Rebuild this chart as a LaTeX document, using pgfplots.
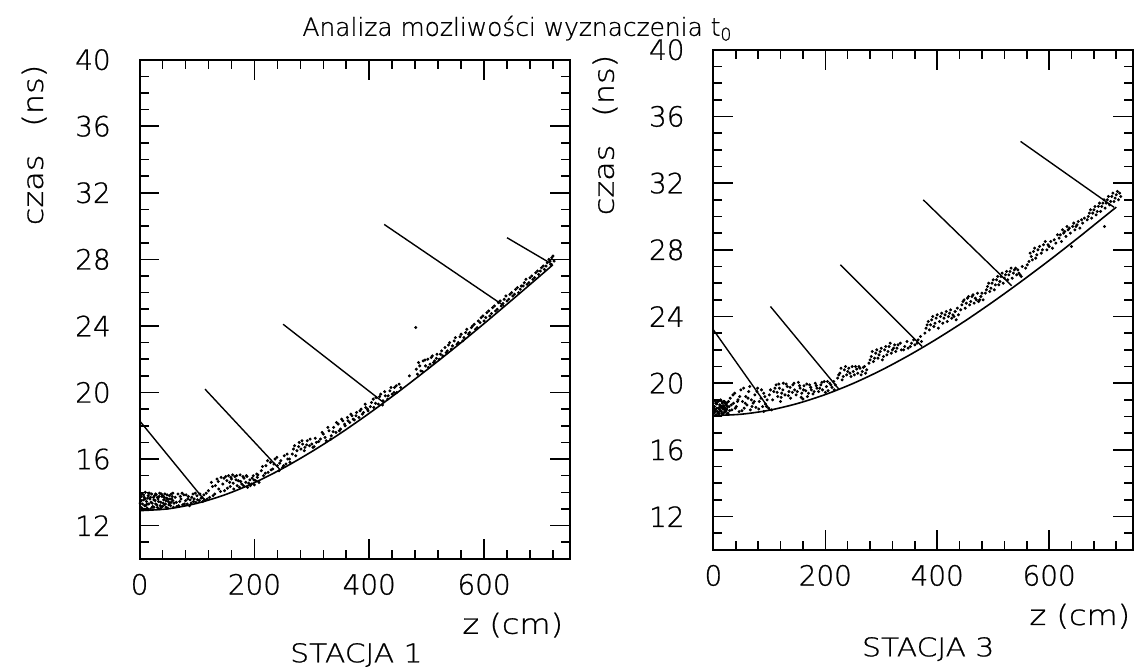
\documentclass[border=0pt]{standalone}
\usepackage{pgfplots}
\pgfplotsset{compat=1.18}
\usepackage{fontspec}
\setmainfont{DejaVu Sans}[UprightFont=* ExtraLight, FakeBold=0.8]
\newfontfamily\wide{DejaVu Sans}[UprightFont=* ExtraLight, FakeStretch=1.15, FakeBold=0.8]
\begin{document}
\pgfplotsset{
  stationaxis/.style={
    scale only axis, anchor=south west,
    xmin=0, xmax=750, ymin=10, ymax=40,
    xtick={0,200,400,600}, minor xtick={40,80,...,720},
    ytick={12,16,...,40}, minor ytick={10,11,...,40},
    tick align=inside, major tick length=10pt, minor tick length=4.5pt,
    axis line style={line width=1pt},
    every tick/.style={black, line width=0.8pt},
    /pgf/number format/assume math mode=true,
    ticklabel style={font=\fontsize{14}{17}\selectfont},
    xticklabel style={yshift=-4pt},
    yticklabel style={xshift=-11pt},
    label style={font=\wide\fontsize{14}{17}\selectfont},
  }
}
\begin{tikzpicture}[x=1pt,y=1pt]
\useasboundingbox (0,0) rectangle (571,335);
\node[anchor=base, font=\fontsize{12.5}{16}\selectfont] at (257,317) {Analiza mozliwości wyznaczenia t\textsubscript{0}};
\node[anchor=base, font=\wide\fontsize{13}{16}\selectfont] at (176,2) {STACJA 1};
\node[anchor=base, font=\wide\fontsize{13}{16}\selectfont] at (463.5,5) {STACJA 3};
\node[rotate=90, anchor=east, font=\wide\fontsize{14}{17}\selectfont] at (14,306) {czas\hspace{1em}(ns)};
\node[rotate=90, anchor=east, font=\wide\fontsize{14}{17}\selectfont] at (301,311) {czas\hspace{1em}(ns)};
% ---------- STACJA 1 ----------
\begin{axis}[stationaxis, at={(67pt,54pt)}, width=216.5pt, height=251pt,
  xlabel={z (cm)}, xlabel style={at={(axis description cs:1,-0.15)}, anchor=base east},
]
\addplot[only marks, mark=*, mark size=0.55pt, black] coordinates {
(2,13.1)(3,13.5)(4,13.9)(5,13.3)(6,12.98)(8,13.7)(9,13.2)(10,14.0)(12,13.45)(13,13.05)(15,13.8)(16,13.3)(18,13.6)(19,13.0)(21,13.9)(22,13.35)(24,13.7)(25,13.1)(27,13.5)(29,13.85)(30,13.25)(32,13.6)(34,13.0)(35,13.95)(37,13.4)(39,13.75)(40,13.15)(42,13.55)(44,13.9)(45,13.3)(47,13.65)(49,13.05)(50,13.45)(52,13.8)(54,13.2)(56,13.6)(58,13.95)(60,13.35)
(3,13.75)(7,13.55)(11,13.2)(14,13.65)(17,13.95)(20,13.4)(23,13.15)(26,13.8)(28,13.3)(31,13.7)(33,13.45)(36,13.2)(38,13.9)(41,13.35)(43,13.7)(46,13.5)(48,13.85)(51,13.25)(53,13.6)(55,13.4)(57,13.75)(59,13.1)
(1,13.35)(4,13.05)(7,13.85)(10,13.6)(13,13.3)(16,13.95)(19,13.7)(22,13.1)(25,13.55)(28,13.9)(31,13.1)(34,13.75)(37,13.05)(40,13.8)(43,13.25)(46,13.1)(49,13.6)(52,13.35)(55,13.9)(58,13.5)
(62,13.7)(65,13.15)(67,13.9)(70,13.45)(72,13.6)(75,13.25)(77,13.85)(80,13.5)(83,13.3)(85,13.75)(88,13.55)(90,13.35)(93,13.9)(95,13.6)(98,13.4)(100,13.8)(104,13.5)(107,13.65)(110,13.45)(113,13.55)(118,13.6)
(64,13.4)(68,13.2)(71,13.75)(74,13.95)(78,13.3)(81,13.85)(84,13.6)(87,13.2)(91,13.7)(94,13.45)(97,13.95)(101,13.55)(105,13.9)(109,13.7)(112,13.85)(116,13.95)
(120,14.1)(125,14.6)(128,13.8)(132,14.4)(135,14.8)(138,14.2)(142,14.9)(145,14.5)(148,14.1)(152,14.7)(155,15.0)(158,14.35)(160,14.8)(163,14.55)(166,14.95)(170,14.4)(172,14.7)(175,15.05)(178,14.5)(182,14.85)(185,14.6)(188,14.3)(192,14.75)(195,14.5)(198,15.0)(202,14.7)(205,14.9)(208,14.6)
(150,14.95)(157,14.6)(162,15.05)(168,14.75)(174,14.3)(180,14.95)(186,15.0)(190,14.55)(196,14.85)(200,14.45)(204,15.1)
(122,13.7)(127,14.35)(131,13.9)(137,14.65)(141,14.05)(147,14.85)(153,14.25)(159,14.9)(164,14.2)(169,15.0)(176,14.65)(181,14.4)(187,14.95)(193,14.4)(199,14.75)(206,15.05)
(212,15.3)(216,15.0)(220,15.6)(224,15.2)(228,15.8)(232,15.4)(236,16.0)(240,15.6)(243,15.3)(246,15.9)(249,15.5)(252,16.2)(255,15.7)(258,16.0)(262,15.8)
(214,15.55)(219,15.15)(223,15.9)(229,15.35)(234,15.7)(239,16.1)(244,15.75)(251,15.6)(257,16.3)(261,16.0)
(266,16.3)(270,16.8)(274,16.5)(278,17.0)(281,16.6)(284,16.9)(288,16.7)(292,17.1)(296,16.8)(300,16.9)(304,16.75)(308,17.0)
(268,16.6)(272,16.2)(277,16.75)(283,17.1)(287,16.5)(291,16.85)(297,17.2)(302,16.7)(306,17.25)
(315,17.2)(320,17.5)(325,17.1)(330,17.7)(334,17.4)(338,17.9)(342,17.6)(346,18.1)(350,17.8)(354,18.3)(358,18.0)(362,18.5)(366,18.2)(370,18.6)(374,18.35)(378,18.8)(382,18.5)(386,19.0)(390,18.8)(394,19.1)(398,18.9)
(312,17.05)(318,17.6)(323,17.3)(328,17.9)(333,17.2)(337,17.65)(343,18.2)(348,17.7)(352,18.4)(357,18.1)(363,18.3)(368,18.7)(372,18.4)(377,18.6)(384,18.9)(388,18.7)(393,19.3)(397,19.0)
(404,19.4)(408,19.1)(412,19.7)(416,19.3)(420,19.9)(424,19.5)(428,19.8)(432,19.6)(436,20.1)(440,19.9)(444,20.3)(448,20.0)(452,20.5)
(402,19.15)(407,19.6)(411,19.35)(418,19.75)(423,19.25)(427,20.05)(433,19.8)(438,20.3)(443,20.0)(447,20.4)(455,20.3)
(470,21.0)(482,21.4)(486,21.8)(490,21.3)(494,21.9)(498,21.6)(502,22.0)(506,21.7)(510,22.2)(514,21.9)(518,22.3)(522,22.0)(526,22.5)(481,23.9)
(484,21.1)(488,21.6)(493,21.25)(497,21.95)(503,21.5)(508,22.1)(512,21.8)(517,22.05)(524,22.3)(528,22.2)
(532,22.7)(536,22.5)(540,23.0)(545,22.8)(550,23.3)(555,23.0)(560,23.5)(565,23.3)(570,23.8)(575,23.6)(580,24.0)(585,23.8)(590,24.3)
(534,22.4)(538,22.85)(543,22.6)(548,23.1)(553,22.9)(558,23.35)(563,23.1)(568,23.6)(573,23.5)(578,23.9)(583,24.1)(588,23.9)
(595,24.5)(600,24.3)(605,24.8)(610,24.6)(615,25.1)(620,24.9)(625,25.4)(630,25.2)(635,25.6)(640,25.5)(645,25.9)(650,25.8)(655,26.2)(660,26.0)(665,26.4)
(593,24.2)(598,24.6)(603,24.5)(608,24.9)(613,24.75)(618,25.2)(623,25.0)(628,25.5)(633,25.35)(638,25.8)(643,25.6)(648,26.0)(653,25.9)(658,26.3)(663,26.2)
(670,26.6)(675,26.5)(680,26.9)(685,26.8)(690,27.2)(695,27.1)(700,27.5)(705,27.4)(710,27.8)(715,27.9)(718,28.1)(722,27.9)
(668,26.4)(673,26.8)(678,26.6)(683,27.0)(688,26.9)(693,27.3)(698,27.3)(703,27.6)(708,27.6)(713,28.0)(716,27.7)(720,28.2)
};
\addplot[black, line width=0.8pt, smooth] coordinates {
(0,12.90)(50,13.01)(100,13.34)(150,13.87)(200,14.58)(250,15.45)(300,16.45)(350,17.55)(400,18.75)(450,20.02)(500,21.35)(550,22.72)(600,24.14)(650,25.60)(700,27.08)(720,27.68)};
\addplot[black, line width=0.7pt] coordinates {(0,18.3)(115,13.45)};
\addplot[black, line width=0.7pt] coordinates {(114,20.2)(245,15.35)};
\addplot[black, line width=0.7pt] coordinates {(250,24.1)(425,19.4)};
\addplot[black, line width=0.7pt] coordinates {(426,30.1)(635,25.2)};
\addplot[black, line width=0.7pt] coordinates {(640,29.3)(719,27.7)};
\end{axis}
% ---------- STACJA 3 ----------
\begin{axis}[stationaxis, at={(355.5pt,58.5pt)}, width=211pt, height=251.5pt,
  xlabel={z (cm)}, xlabel style={at={(axis description cs:1.01,-0.15)}, anchor=base east},
]
\addplot[only marks, mark=*, mark size=0.55pt, black] coordinates {
(1,18.2)(2,18.6)(3,18.95)(4,18.4)(5,18.1)(6,18.75)(7,18.3)(8,18.9)(9,18.5)(10,18.15)(11,18.7)(12,18.35)(13,19.0)(14,18.55)(15,18.2)(16,18.8)(17,18.45)(18,18.65)(19,18.25)(20,18.9)(21,18.5)(22,18.3)(23,18.7)(24,18.45)(25,18.85)(26,18.2)(28,18.6)
(2,18.35)(4,18.8)(6,18.5)(8,18.2)(10,18.95)(12,18.6)(14,18.3)(16,18.55)(18,18.9)(20,18.4)(22,18.75)(24,18.15)
(1,18.5)(3,18.3)(5,18.8)(7,18.95)(9,18.25)(11,18.45)(13,18.65)(15,18.9)(17,18.15)(19,18.6)(21,18.8)(23,18.4)(25,18.6)(27,18.9)(29,18.35)
(30,19.1)(33,18.4)(36,18.8)(38,19.4)(41,18.6)(44,19.0)(46,18.3)(49,19.6)(52,18.9)(55,18.5)(58,19.2)(60,18.7)(63,19.5)(66,18.4)(68,19.0)(71,18.8)(74,19.3)(76,18.55)(79,19.7)(82,18.9)(85,19.1)(88,18.6)(90,19.4)(93,18.75)(96,19.0)(99,18.5)(102,19.6)(104,18.4)
(32,18.7)(35,19.3)(39,18.5)(43,18.9)(47,19.2)(51,18.35)(54,19.7)(57,18.8)(62,19.1)(65,19.8)(69,18.6)(73,18.9)(78,19.5)(81,18.45)(86,19.6)(92,19.2)(95,18.6)(100,19.3)
(108,19.5)(112,19.9)(115,19.2)(118,19.7)(122,19.4)(125,20.0)(128,19.3)(132,19.8)(135,19.5)(138,19.1)(142,19.9)(145,19.6)(148,19.3)(152,20.05)(155,19.7)(158,19.4)(162,19.85)(165,19.55)(168,19.2)(172,19.9)(175,19.6)(178,19.35)(182,20.0)(185,19.7)(188,19.5)(192,19.9)(195,19.6)(198,20.1)(202,19.8)(205,19.55)(208,20.0)(212,19.75)(215,20.1)(218,19.9)(120,18.9)(160,19.05)(90,18.3)
(106,19.0)(110,19.7)(114,19.45)(117,19.95)(121,19.15)(124,19.6)(130,19.95)(134,19.25)(137,19.75)(141,19.45)(144,20.0)(150,19.5)(154,19.85)(157,19.15)(161,19.6)(167,19.95)(170,19.4)(174,19.75)(180,19.5)(184,19.85)(190,19.7)(194,20.05)(200,19.45)(204,20.1)(210,19.9)(216,19.6)
(222,20.3)(226,20.6)(230,20.2)(234,20.8)(238,20.5)(242,20.9)(246,20.4)(250,20.7)(254,21.0)(258,20.6)(262,20.9)(266,20.7)(270,21.0)(274,20.8)
(224,20.5)(228,20.9)(232,20.4)(236,21.0)(240,20.7)(244,20.6)(248,21.0)(252,20.5)(256,20.85)(260,21.0)(264,20.5)(268,20.95)(272,20.6)
(278,21.2)(282,21.6)(286,21.3)(290,21.8)(294,21.5)(298,21.9)(302,21.4)(306,22.0)(310,21.7)(314,22.2)(318,21.8)(322,22.1)(326,21.9)(330,22.3)(336,22.0)(342,22.2)
(280,21.4)(284,21.9)(288,21.5)(292,22.0)(296,21.7)(300,22.1)(304,21.6)(308,22.2)(312,21.9)(316,22.4)(320,22.0)(324,22.3)(328,22.1)(334,22.4)(340,22.0)(346,22.5)(352,22.2)(358,22.6)(364,22.4)(370,22.8)
(348,22.1)(354,22.4)(360,22.3)(366,22.6)(372,22.5)
(378,23.0)(382,23.5)(386,23.2)(390,23.8)(394,23.4)(398,23.9)(402,23.3)(406,24.0)(410,23.6)(414,24.1)(418,23.7)(422,24.2)(426,23.9)(430,24.0)(434,23.8)(438,24.1)
(380,23.3)(384,23.7)(388,23.5)(392,24.0)(396,23.6)(400,24.1)(404,23.7)(408,24.2)(412,23.9)(416,24.3)(420,24.0)(424,24.4)(428,24.1)(432,24.3)(436,24.5)
(442,24.4)(446,24.9)(450,24.5)(454,25.1)(458,24.7)(462,25.2)(466,24.8)(470,25.0)(474,24.9)(478,25.2)(482,25.0)
(444,24.7)(448,25.0)(452,24.8)(456,25.2)(460,24.9)(464,25.3)(468,25.1)(472,25.4)(476,25.0)(480,25.4)
(486,25.4)(490,25.8)(494,25.5)(498,26.0)(502,25.6)(506,26.2)(510,25.9)(514,26.4)(518,26.0)(522,26.5)(526,26.2)(530,26.7)(534,26.3)(538,26.8)(542,26.5)(546,26.6)(550,26.4)
(488,25.6)(492,26.0)(496,25.7)(500,26.2)(504,25.9)(508,26.4)(512,26.1)(516,26.6)(520,26.3)(524,26.7)(528,26.5)(532,26.9)(536,26.6)(540,26.9)(544,26.8)(548,26.5)(552,27.0)
(558,26.9)(564,27.3)(568,27.6)(572,27.9)(576,27.5)(580,28.0)(586,27.8)(590,28.3)(596,28.0)(600,28.2)(606,28.1)(612,28.4)
(561,27.1)(566,27.8)(570,27.4)(574,28.1)(578,27.7)(583,28.2)(588,28.0)(593,28.5)(598,28.3)(603,28.5)(609,28.6)(615,28.9)(620,28.9)(624,29.2)(628,29.1)(632,29.4)(636,29.3)(644,29.6)(648,29.4)(652,29.7)(658,29.8)(663,29.9)
(618,28.7)(622,28.5)(626,29.0)(630,28.8)(634,29.2)(638,29.0)(642,29.4)(646,29.2)(650,29.5)(655,29.3)(660,29.6)
(668,29.8)(672,30.2)(676,29.9)(680,30.4)(684,30.1)(688,30.6)(692,30.3)(696,30.8)(700,30.5)(704,31.0)(708,30.7)(712,31.2)(716,30.9)(720,31.3)(724,31.0)(728,31.2)(699,29.4)(640,28.2)
(670,30.0)(674,30.4)(678,30.2)(682,30.6)(686,30.3)(690,30.8)(694,30.6)(698,31.0)(702,30.8)(706,31.2)(710,30.9)(714,31.4)(718,31.1)(722,31.5)(726,31.4)
};
\addplot[black, line width=0.8pt, smooth] coordinates {
(0,18.06)(50,18.14)(100,18.38)(150,18.78)(200,19.32)(250,19.99)(300,20.78)(350,21.68)(400,22.67)(450,23.74)(500,24.89)(550,26.10)(600,27.36)(650,28.67)(700,30.02)(720,30.56)};
\addplot[black, line width=0.7pt] coordinates {(0,23.2)(101,18.4)};
\addplot[black, line width=0.7pt] coordinates {(102,24.6)(224,19.65)};
\addplot[black, line width=0.7pt] coordinates {(227,27.1)(373,22.2)};
\addplot[black, line width=0.7pt] coordinates {(375,31.0)(533,25.85)};
\addplot[black, line width=0.7pt] coordinates {(549,34.5)(716,30.55)};
\end{axis}
\end{tikzpicture}
\end{document}
